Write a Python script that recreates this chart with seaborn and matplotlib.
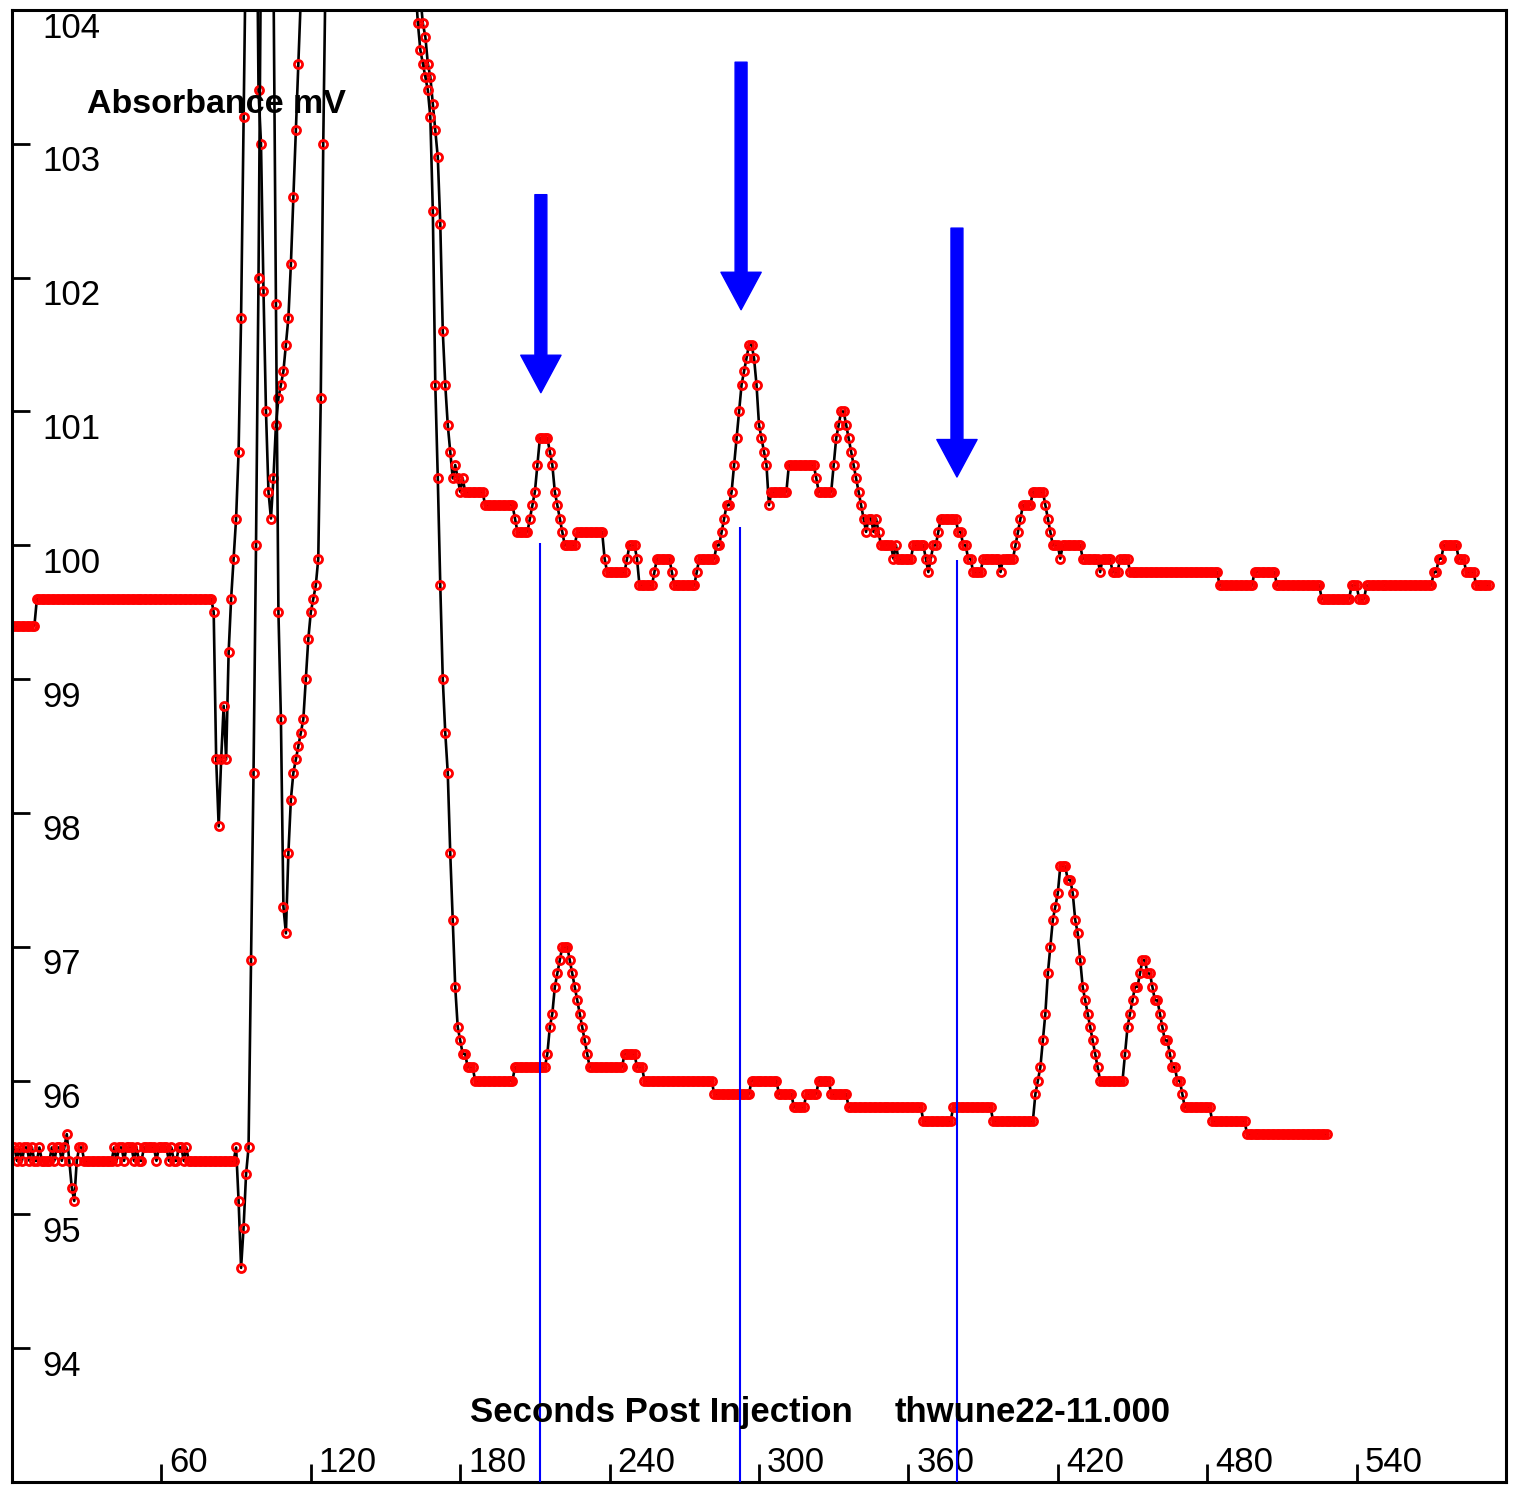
import numpy as np
import pandas as pd
import matplotlib
matplotlib.use("Agg")
import matplotlib.pyplot as plt
from matplotlib.patches import FancyArrowPatch
import seaborn as sns

# ---------------- data (run-length: level, number of 1-s samples) ----------------
upper_levels = [99.4, 99.6, 99.5, 98.4, 97.9, 98.4, 98.8, 98.4, 99.2, 99.6, 99.9, 100.2, 100.7, 101.7,
                103.2, 104.6, 106.5, 108.0, 107.5, 105.5, 103.4, 103.0, 101.9, 101.0, 100.4, 100.2,
                100.5, 100.9, 101.1, 101.2, 101.3, 101.5, 101.7, 102.1, 102.6, 103.1, 103.6, 104.1,
                105.2, 106.5, 108.0, 110.0, 112.0, 110.0, 108.0, 106.5, 105.3, 104.6, 104.1, 103.9,
                103.8, 103.6, 103.5, 103.3, 103.1, 102.9, 102.4, 101.6, 101.2, 100.9, 100.7, 100.5,
                100.6, 100.5, 100.4, 100.5, 100.4, 100.3, 100.2, 100.1, 100.2, 100.3, 100.4, 100.6,
                100.8, 100.7, 100.6, 100.4, 100.3, 100.2, 100.1, 100.0, 100.1, 99.9, 99.8, 99.9,
                100.0, 99.9, 99.7, 99.8, 99.9, 99.8, 99.7, 99.8, 99.9, 100.0, 100.1, 100.2, 100.3,
                100.4, 100.6, 100.8, 101.0, 101.2, 101.3, 101.4, 101.5, 101.4, 101.2, 100.9, 100.8,
                100.7, 100.6, 100.3, 100.4, 100.6, 100.5, 100.4, 100.6, 100.8, 100.9, 101.0, 100.9,
                100.8, 100.7, 100.6, 100.5, 100.4, 100.3, 100.2, 100.1, 100.2, 100.1, 100.2, 100.1,
                100.0, 99.9, 100.0, 99.9, 100.0, 99.9, 99.8, 99.9, 100.0, 100.1, 100.2, 100.1,
                100.0, 99.9, 99.8, 99.9, 99.8, 99.9, 100.0, 100.1, 100.2, 100.3, 100.4, 100.3,
                100.2, 100.1, 100.0, 99.9, 100.0, 99.9, 99.8, 99.9, 99.8, 99.9, 99.8, 99.7, 99.8,
                99.7, 99.6, 99.7, 99.6, 99.7, 99.8, 99.9, 100.0, 99.9, 99.8, 99.7]
upper_counts = [9, 71, 1, 1, 1, 1, 1, 1, 1, 1, 1, 1, 1, 1,
                1, 1, 1, 1, 1, 1, 1, 1, 1, 1, 1, 1,
                1, 1, 1, 1, 1, 1, 1, 1, 1, 1, 1, 1,
                1, 1, 1, 1, 38, 1, 1, 1, 1, 1, 1, 1,
                1, 1, 1, 1, 1, 1, 1, 1, 1, 1, 1, 1,
                1, 1, 1, 1, 8, 12, 1, 5, 1, 1, 1, 1,
                4, 1, 1, 1, 1, 1, 1, 5, 11, 1, 8, 1,
                3, 1, 6, 1, 6, 1, 9, 1, 7, 2, 1, 1, 2,
                1, 1, 1, 1, 1, 1, 1, 2, 1, 1, 1, 1,
                1, 1, 1, 7, 11, 1, 6, 1, 1, 1, 2, 1,
                1, 1, 1, 1, 1, 1, 1, 1, 2, 1, 1, 1,
                5, 1, 1, 6, 5, 1, 1, 1, 2, 1, 7, 2,
                2, 2, 4, 7, 1, 5, 1, 1, 1, 4, 5, 1,
                1, 1, 3, 1, 8, 7, 1, 4, 3, 4, 36, 14, 9,
                18, 12, 3, 3, 27, 2, 2, 6, 3, 4, 6]

lower_levels = [95.5, 95.4, 95.5, 95.4, 95.5, 95.4, 95.5, 95.4, 95.5, 95.4, 95.5, 95.4, 95.5, 95.4,
                95.5, 95.6, 95.4, 95.2, 95.1, 95.4, 95.5, 95.4, 95.5, 95.4, 95.5, 95.4, 95.5, 95.4,
                95.5, 95.4, 95.5, 95.4, 95.5, 95.4, 95.5, 95.4, 95.5, 95.4, 95.5, 95.4, 95.5,
                95.1, 94.6, 94.9, 95.3, 95.5, 96.9, 98.3, 100.0, 102.0, 104.5, 107.0, 108.0, 107.0,
                106.0, 104.3, 101.8, 99.5, 98.7, 97.3, 97.1, 97.7, 98.1, 98.3, 98.4, 98.5, 98.6,
                98.7, 99.0, 99.3, 99.5, 99.6, 99.7, 99.9, 101.1, 103.0, 104.4, 106.0, 108.0, 111.0,
                109.0, 107.0, 105.5, 104.2, 103.9, 103.7, 103.6, 103.5, 103.4, 103.2, 102.5, 101.2,
                100.5, 99.7, 99.0, 98.6, 98.3, 97.7, 97.2, 96.7, 96.4, 96.3, 96.2, 96.1, 96.0,
                96.1, 96.2, 96.4, 96.5, 96.7, 96.8, 96.9, 97.0, 96.9, 96.8, 96.7, 96.6, 96.5, 96.4,
                96.3, 96.2, 96.1, 96.2, 96.1, 96.0, 95.9, 96.0, 95.9, 95.8, 95.9, 96.0, 95.9, 95.8,
                95.7, 95.8, 95.7, 95.9, 96.0, 96.1, 96.3, 96.5, 96.8, 97.0, 97.2, 97.3, 97.4, 97.6,
                97.5, 97.4, 97.2, 97.1, 96.9, 96.7, 96.6, 96.5, 96.4, 96.3, 96.2, 96.1, 96.0, 96.2,
                96.4, 96.5, 96.6, 96.7, 96.8, 96.9, 96.8, 96.7, 96.6, 96.5, 96.4, 96.3, 96.2, 96.1,
                96.0, 95.9, 95.8, 95.7, 95.6]
lower_counts = [1, 1, 1, 1, 2, 1, 1, 2, 1, 4, 1, 1, 2, 1,
                1, 1, 1, 1, 1, 1, 2, 12, 1, 1, 2, 1, 3, 1,
                1, 2, 5, 1, 4, 1, 1, 2, 2, 1, 1, 19, 1,
                1, 1, 1, 1, 1, 1, 1, 1, 1, 1, 1, 1, 1,
                1, 1, 1, 1, 1, 1, 1, 1, 1, 1, 1, 1, 1,
                1, 1, 1, 1, 1, 1, 1, 1, 1, 1, 1, 1, 30,
                1, 1, 1, 1, 1, 1, 1, 1, 1, 1, 1, 1,
                1, 1, 1, 1, 1, 1, 1, 1, 1, 1, 2, 3, 16,
                13, 1, 1, 1, 1, 1, 1, 3, 1, 1, 1, 1, 1, 1,
                1, 1, 14, 5, 3, 28, 15, 11, 6, 5, 5, 5, 7, 30,
                12, 16, 17, 1, 1, 1, 1, 1, 1, 1, 1, 1, 1, 3,
                2, 1, 1, 1, 1, 1, 1, 1, 1, 1, 1, 1, 10, 1,
                1, 1, 1, 2, 1, 2, 2, 1, 2, 1, 1, 2, 1, 2,
                2, 1, 11, 14, 33]

x_ticks = [60, 120, 180, 240, 300, 360, 420, 480, 540]
y_ticks = [94, 95, 96, 97, 98, 99, 100, 101, 102, 103, 104]

arrow_times = [212.4, 292.8, 379.5]
arrow_tops = [102.62, 103.61, 102.37]
arrow_tips = [101.14, 101.76, 100.51]
marker_line_times = [212.0, 292.4, 379.5]
marker_line_tops = [100.02, 100.14, 99.89]

# ---------------- build frames ----------------
upper_mv = np.repeat(upper_levels, upper_counts)
lower_mv = np.repeat(lower_levels, lower_counts)
df_upper = pd.DataFrame({"t": np.arange(1, len(upper_mv) + 1), "mV": upper_mv})
df_lower = pd.DataFrame({"t": np.arange(1, len(lower_mv) + 1), "mV": lower_mv})

sns.set_style("white")
plt.rcParams["font.family"] = ["Liberation Sans", "DejaVu Sans"]

W, H = 1516, 1486
fig = plt.figure(figsize=(W / 100, H / 100), dpi=100)
fig.patch.set_facecolor("white")
ax = fig.add_axes([12 / W, 4 / H, 1494 / W, 1472 / H])

line_kw = dict(color="black", linewidth=1.9, marker="o", markersize=5.8,
               markerfacecolor="none", markeredgecolor="red", markeredgewidth=2.0,
               estimator=None, sort=False, legend=False)
sns.lineplot(data=df_upper, x="t", y="mV", ax=ax, **line_kw)
sns.lineplot(data=df_lower, x="t", y="mV", ax=ax, **line_kw)

ax.set_xlim(0, 600)
ax.set_ylim(93.0, 104.0)
ax.set_xlabel("")
ax.set_ylabel("")
ax.set_xticks(x_ticks)
ax.set_yticks(y_ticks)
ax.tick_params(axis="both", direction="in", length=13, width=2, colors="black",
               labelbottom=False, labelleft=False, bottom=True, left=True, top=False, right=False)
for s in ax.spines.values():
    s.set_color("black")
    s.set_linewidth(2.2)
ax.grid(False)

for v in y_ticks:
    ax.annotate(str(v), xy=(0, v), xycoords=("axes fraction", "data"), xytext=(30, -18),
                textcoords="offset pixels", ha="left", va="center", fontsize=25, color="black",
                annotation_clip=False)
for v in x_ticks:
    ax.annotate(str(v), xy=(v, 0), xycoords=("data", "axes fraction"), xytext=(8, 19),
                textcoords="offset pixels", ha="left", va="center", fontsize=25, color="black",
                annotation_clip=False)

# blue arrows and marker lines
for t, top, tip in zip(arrow_times, arrow_tops, arrow_tips):
    arr = FancyArrowPatch(posA=(t, top), posB=(t, tip),
                          arrowstyle="simple,head_length=27,head_width=29,tail_width=8.6",
                          mutation_scale=1, color="#0000ff", shrinkA=0, shrinkB=0, zorder=6)
    ax.add_patch(arr)
for t, top in zip(marker_line_times, marker_line_tops):
    ax.plot([t, t], [top, 93.0], color="#0000ff", linewidth=1.5, zorder=6, solid_capstyle="butt")

# texts
ax.text(0.0502, 0.9355, "Absorbance mV", transform=ax.transAxes, fontsize=24.5,
        fontweight="bold", ha="left", va="center", color="black", zorder=7)
ax.text(0.3066, 0.0469, "Seconds Post Injection", transform=ax.transAxes, fontsize=25,
        fontweight="bold", ha="left", va="center", color="black", zorder=7)
ax.text(0.591, 0.0469, "thwune22-11.000", transform=ax.transAxes, fontsize=25,
        fontweight="bold", ha="left", va="center", color="black", zorder=7)

fig.savefig("out.png", dpi=100, facecolor="white")
